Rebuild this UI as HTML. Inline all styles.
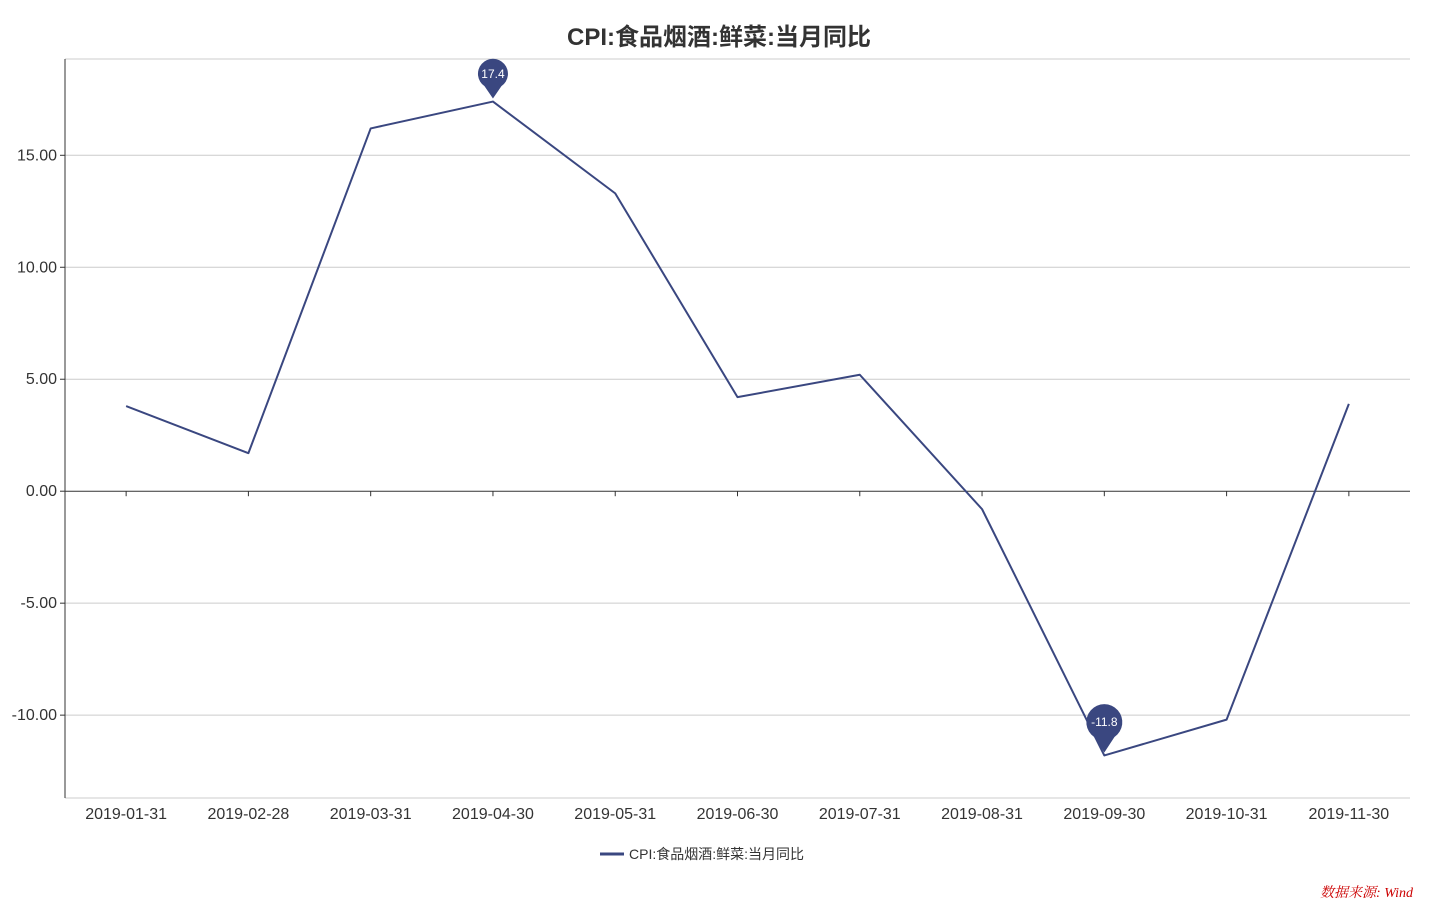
<!DOCTYPE html>
<html><head><meta charset="utf-8"><style>
html,body{margin:0;padding:0;background:#fff;}
svg{display:block;font-family:"Liberation Sans","Noto Sans CJK SC",sans-serif;}
</style></head><body>
<svg id="chart" width="1440" height="900"></svg>
<script>
const categories=["2019-01-31","2019-02-28","2019-03-31","2019-04-30","2019-05-31","2019-06-30","2019-07-31","2019-08-31","2019-09-30","2019-10-31","2019-11-30"];
const values=[3.8,1.7,16.2,17.4,13.3,4.2,5.2,-0.8,-11.8,-10.2,3.9];
const yTicks=[-10,-5,0,5,10,15];
const yTickLabels=["-10.00","-5.00","0.00","5.00","10.00","15.00"];
const seriesName="CPI:食品烟酒:鲜菜:当月同比";

const NS="http://www.w3.org/2000/svg";
const svg=document.getElementById('chart');
const L=65,R=1410,T=59,B=798,yMin=-13.7,yMax=19.3;
const color="#3a4780";
function x(i){return L+(R-L)/categories.length*(i+0.5);}
function y(v){return T+(yMax-v)/(yMax-yMin)*(B-T);}
function mk(tag,attrs,parent){const e=document.createElementNS(NS,tag);for(const k in attrs)e.setAttribute(k,attrs[k]);(parent||svg).appendChild(e);return e;}

let t=mk('text',{x:719,y:45,'text-anchor':'middle','font-size':24,'font-weight':'bold',fill:'#333'});
t.textContent="CPI:食品烟酒:鲜菜:当月同比";



let g=mk('line',{x1:L,x2:R,y1:T,y2:T,stroke:'#ccc'});


g=mk('line',{x1:L,x2:R,y1:B,y2:B,stroke:'#ccc'});


yTicks.forEach((v,i)=>{
  if(v!==0){
    const l=mk('line',{x1:L,x2:R,y1:y(v),y2:y(v),stroke:'#ccc'});
    
    
  }
  const tk=mk('line',{x1:L-5,x2:L,y1:y(v),y2:y(v),stroke:'#333'});
  
  
  const lb=mk('text',{x:L-8,y:y(v)+5,'text-anchor':'end','font-size':16,fill:'#333'});
  lb.textContent=yTickLabels[i];
  
  
});
let ax=mk('line',{x1:L,x2:L,y1:T,y2:B,stroke:'#333'});


ax=mk('line',{x1:L,x2:R,y1:y(0),y2:y(0),stroke:'#333'});


categories.forEach((c,i)=>{
  const tk=mk('line',{x1:x(i),x2:x(i),y1:y(0),y2:y(0)+5,stroke:'#333'});
  
  
  const lb=mk('text',{x:x(i),y:819,'text-anchor':'middle','font-size':16,fill:'#333'});
  lb.textContent=c;
  
  
});
const pl=mk('polyline',{points:values.map((v,i)=>x(i)+','+y(v)).join(' '),fill:'none',stroke:color,'stroke-width':2,'stroke-linejoin':'round'});



function pin(i,r,label,name){
  const px=x(i),py=y(values[i]);
  const cy=py-r*1.85,a=0.6;
  const sx=px-r*Math.sin(a),sy=cy+r*Math.cos(a),ex=px+r*Math.sin(a);
  const d=`M${px},${py-3} L${sx},${sy} A${r},${r} 0 1 1 ${ex},${sy} Z`;
  const p=mk('path',{d:d,fill:color});
  
  
  const tx=mk('text',{x:px,y:cy+4,'text-anchor':'middle','font-size':12,fill:'#fff'});
  tx.textContent=label;
  
  
}
const maxI=values.indexOf(Math.max(...values)),minI=values.indexOf(Math.min(...values));
pin(maxI,15,String(values[maxI]),'max-marker');
pin(minI,18,String(values[minI]),'min-marker');

const lg=mk('line',{x1:600,x2:624,y1:854,y2:854,stroke:color,'stroke-width':3});


const lt=mk('text',{x:629,y:859,'font-size':14,fill:'#333'});
lt.textContent=seriesName;



const src=mk('text',{x:1413,y:897,'text-anchor':'end','font-size':14,fill:'#c00','font-style':'italic','font-family':'"Liberation Serif","Noto Serif CJK SC",serif'});
src.textContent="数据来源: Wind";


</script>
</body></html>
